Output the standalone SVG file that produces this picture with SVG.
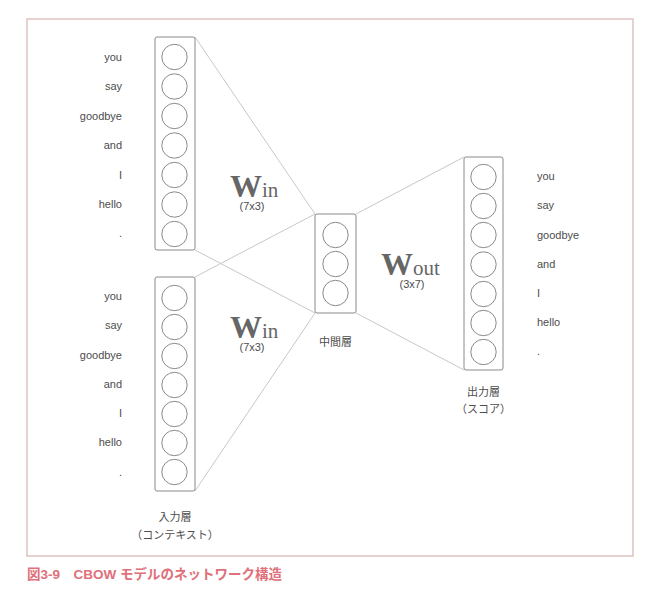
<svg xmlns="http://www.w3.org/2000/svg" width="666" height="603" viewBox="0 0 666 603">
<style>
.lbl{font-family:"Liberation Sans",Arial,sans-serif;font-size:11px;fill:#4d4d4d}
.r{text-anchor:end}
.c{text-anchor:middle}
.jp{font-family:"Liberation Sans","Noto Sans CJK JP",sans-serif;font-size:11px;fill:#4d4d4d;text-anchor:middle}
.box{fill:none;stroke:#8a8a8a;stroke-width:1}
.cir{fill:#fff;stroke:#8a8a8a;stroke-width:1}
.W{font-family:"Liberation Serif","DejaVu Serif",serif;font-weight:bold;font-size:32px;fill:#666}
.sub{font-family:"Liberation Serif","DejaVu Serif",serif;font-weight:normal;font-size:21px;fill:#666}
.con line{stroke:#c8c8c8;stroke-width:1}
</style>
<rect width="666" height="603" fill="#fff"/>
<rect x="27" y="19" width="606" height="537" fill="none" stroke="#d9b9b9" stroke-width="1.3"/>
<g class="con">
<line x1="195" y1="37" x2="315" y2="214"/>
<line x1="195" y1="250" x2="315" y2="313"/>
<line x1="195" y1="277" x2="315" y2="214"/>
<line x1="195" y1="491" x2="315" y2="313"/>
<line x1="356" y1="214" x2="464" y2="157"/>
<line x1="356" y1="313" x2="464" y2="370"/>
</g>
<g id="input1">
<rect class="box" x="155" y="37" width="40" height="213" rx="2"/>
<circle class="cir" cx="174.5" cy="57" r="12.7"/>
<circle class="cir" cx="174.5" cy="86.5" r="12.7"/>
<circle class="cir" cx="174.5" cy="116" r="12.7"/>
<circle class="cir" cx="174.5" cy="145.5" r="12.7"/>
<circle class="cir" cx="174.5" cy="175" r="12.7"/>
<circle class="cir" cx="174.5" cy="204.5" r="12.7"/>
<circle class="cir" cx="174.5" cy="234" r="12.7"/>
<text class="lbl r" x="122" y="61">you</text>
<text class="lbl r" x="122" y="90">say</text>
<text class="lbl r" x="122" y="120">goodbye</text>
<text class="lbl r" x="122" y="149">and</text>
<text class="lbl r" x="122" y="179">I</text>
<text class="lbl r" x="122" y="208">hello</text>
<text class="lbl r" x="122" y="237">.</text>
</g>
<g id="input2">
<rect class="box" x="155" y="277" width="40" height="214" rx="2"/>
<circle class="cir" cx="174.5" cy="298" r="12.7"/>
<circle class="cir" cx="174.5" cy="327" r="12.7"/>
<circle class="cir" cx="174.5" cy="356" r="12.7"/>
<circle class="cir" cx="174.5" cy="385" r="12.7"/>
<circle class="cir" cx="174.5" cy="414" r="12.7"/>
<circle class="cir" cx="174.5" cy="443" r="12.7"/>
<circle class="cir" cx="174.5" cy="472" r="12.7"/>
<text class="lbl r" x="122" y="300">you</text>
<text class="lbl r" x="122" y="329">say</text>
<text class="lbl r" x="122" y="359">goodbye</text>
<text class="lbl r" x="122" y="388">and</text>
<text class="lbl r" x="122" y="417">I</text>
<text class="lbl r" x="122" y="446">hello</text>
<text class="lbl r" x="122" y="476">.</text>
<text class="jp" x="175" y="521">入力層</text>
<text class="jp" x="175" y="539">（コンテキスト）</text>
</g>
<g id="win1">
<text x="230" y="197"><tspan class="W">W</tspan><tspan class="sub">in</tspan></text>
<text class="lbl c" x="252" y="210">(7x3)</text>
</g>
<g id="win2">
<text x="230" y="338"><tspan class="W">W</tspan><tspan class="sub">in</tspan></text>
<text class="lbl c" x="252" y="351">(7x3)</text>
</g>
<g id="hidden">
<rect class="box" x="315" y="214" width="41" height="99" rx="2"/>
<circle class="cir" cx="335.5" cy="235" r="12.7"/>
<circle class="cir" cx="335.5" cy="264" r="12.7"/>
<circle class="cir" cx="335.5" cy="293" r="12.7"/>
<text class="jp" x="335.5" y="346">中間層</text>
</g>
<g id="wout">
<text x="381" y="275"><tspan class="W">W</tspan><tspan class="sub">out</tspan></text>
<text class="lbl c" x="412" y="288">(3x7)</text>
</g>
<g id="output">
<rect class="box" x="464" y="157" width="39" height="213" rx="2"/>
<circle class="cir" cx="483.5" cy="177" r="12.7"/>
<circle class="cir" cx="483.5" cy="206" r="12.7"/>
<circle class="cir" cx="483.5" cy="235" r="12.7"/>
<circle class="cir" cx="483.5" cy="264.5" r="12.7"/>
<circle class="cir" cx="483.5" cy="294" r="12.7"/>
<circle class="cir" cx="483.5" cy="323" r="12.7"/>
<circle class="cir" cx="483.5" cy="352" r="12.7"/>
<text class="lbl" x="537" y="180">you</text>
<text class="lbl" x="537" y="209">say</text>
<text class="lbl" x="537" y="239">goodbye</text>
<text class="lbl" x="537" y="268">and</text>
<text class="lbl" x="537" y="297">I</text>
<text class="lbl" x="537" y="326">hello</text>
<text class="lbl" x="537" y="355">.</text>
<text class="jp" x="483.5" y="396">出力層</text>
<text class="jp" x="483.5" y="413">（スコア）</text>
</g>
<text x="27" y="579" style="font-family:'Liberation Sans','Noto Sans CJK JP',sans-serif;font-size:13.5px;font-weight:bold;fill:#e0707a">図3-9　CBOW モデルのネットワーク構造</text>
</svg>
